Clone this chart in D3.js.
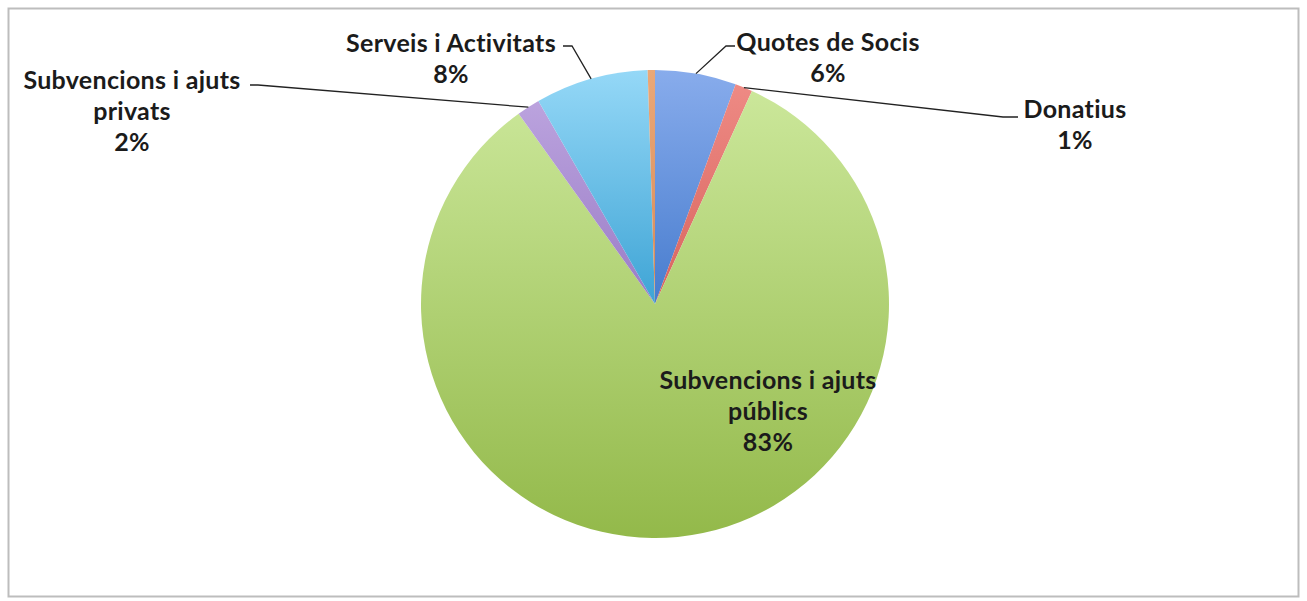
<!DOCTYPE html>
<html>
<head>
<meta charset="utf-8">
<script src="https://cdn.jsdelivr.net/npm/d3@7"></script>
<style>
  body { margin: 0; background: #fff; }
  text { font-family: Lato, "Open Sans", sans-serif; font-weight: bold; fill: #1b1b1b; }
</style>
</head>
<body>
<svg width="1307" height="601"></svg>
<script>
// Data (order clockwise from 12 o'clock)
const categories = ["Quotes de Socis", "Donatius", "Subvencions i ajuts públics", "Subvencions i ajuts privats", "Serveis i Activitats", "Altres"];
const values = [5.6, 1.2, 83.3, 1.6, 7.8, 0.5];
const labels = [["Quotes de Socis", "6%"], ["Donatius", "1%"], ["Subvencions i ajuts", "públics", "83%"], ["Subvencions i ajuts", "privats", "2%"], ["Serveis i Activitats", "8%"], null];

const colorsTop = ["#88acec", "#ee8a84", "#cbe79a", "#bba3de", "#95d8f7", "#eaa878"];
const colorsBottom = ["#477cce", "#d8645e", "#93b94a", "#9a7cc6", "#3ea4d5", "#d68a58"];

// label layout: text centre x, first line y, leader points
const labelLayout = [
    { x: 828, y: 51, leader: [[735, 46], [726, 46]] },
    { x: 1075, y: 118, leader: [[1018, 117], [1003, 117]] },
    { x: 768, y: 389, leader: null },
    { x: 132, y: 89, leader: [[250, 85], [258, 85]] },
    { x: 451, y: 52, leader: [[563, 46], [572, 46]] },
    null
];

const svg = d3.select("svg");
const cx = 655, cy = 304, r = 234;

// frame
svg.append("rect")
    .attr("x", 8.5).attr("y", 8.5)
    .attr("width", 1290).attr("height", 588)
    .attr("fill", "white")
    .attr("stroke", "#bdbdbd")
    .attr("stroke-width", 2);

const defs = svg.append("defs");
categories.forEach((c, i) => {
    const g = defs.append("linearGradient")
        .attr("id", "grad" + i)
        .attr("x1", 0).attr("y1", 0).attr("x2", 0).attr("y2", 1);
    g.append("stop").attr("offset", "0%").attr("stop-color", colorsTop[i]);
    g.append("stop").attr("offset", "100%").attr("stop-color", colorsBottom[i]);
});

const pie = d3.pie().sort(null).value(d => d)(values);
const arc = d3.arc().innerRadius(0).outerRadius(r);

const g = svg.append("g").attr("transform", `translate(${cx},${cy})`);

g.selectAll("path")
    .data(pie)
    .enter()
    .append("path")
    .attr("d", arc)
    .attr("fill", (d, i) => `url(#grad${i})`);

// leader lines from slice edge
const edge = d => {
    const a = (d.startAngle + d.endAngle) / 2;
    return [cx + r * Math.sin(a), cy - r * Math.cos(a)];
};

pie.forEach((d, i) => {
    const lay = labelLayout[i];
    if (!lay || !lay.leader) return;
    const pts = [lay.leader[0], lay.leader[1], edge(d)];
    svg.append("path")
        .attr("d", d3.line()(pts))
        .attr("fill", "none")
        .attr("stroke", "#222")
        .attr("stroke-width", 1.3);
});

// labels
labels.forEach((lines, i) => {
    if (!lines) return;
    const lay = labelLayout[i];
    const t = svg.append("text")
        .attr("text-anchor", "middle")
        .attr("font-size", 25)
        .attr("letter-spacing", 0.3);
    lines.forEach((ln, j) => {
        t.append("tspan")
            .attr("x", lay.x)
            .attr("y", lay.y + j * 31)
            .text(ln);
    });
});
</script>
</body>
</html>
